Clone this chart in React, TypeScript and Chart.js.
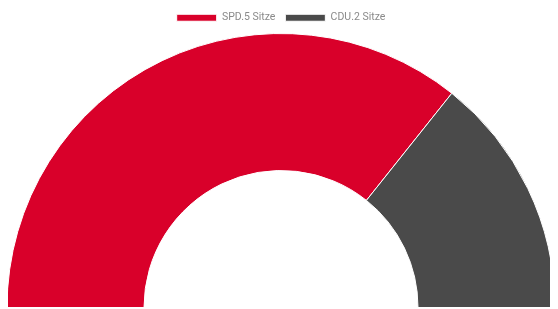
import React, { useEffect, useRef } from "react";
import { Chart, registerables } from "chart.js";

Chart.register(...registerables);

const labels = ["SPD.5 Sitze", "CDU.2 Sitze"];
const seats = [5, 2];
const colors = ["#d9002a", "#4a4a4a"];

export default function App() {
  const ref = useRef<HTMLCanvasElement>(null);
  useEffect(() => {
    if (!ref.current) return;
    const chart = new Chart(ref.current, {
      type: "doughnut",
      data: {
        labels,
        datasets: [
          {
            data: seats,
            backgroundColor: colors,
            borderColor: "#ffffff",
            borderWidth: 1,
          },
        ],
      },
      options: {
        animation: false,
        responsive: true,
        maintainAspectRatio: false,
        rotation: -90,
        circumference: 180,
        cutout: "50%",
        layout: { padding: { top: -5.5, left: 0, right: 0, bottom: 0 } },
        plugins: {
          legend: {
            position: "top",
            labels: {
              font: { size: 10.5, family: "Roboto" },
              color: "#8a8a8a",
              boxWidth: 40,
              boxHeight: 7,
              padding: 10,
            },
          },
          tooltip: { enabled: false },
        },
      },
    });
    return () => chart.destroy();
  }, []);
  return (
    <div style={{ position: "relative", width: "550px", marginLeft: "-2px", height: "300px" }}>
      <canvas ref={ref} />
    </div>
  );
}
